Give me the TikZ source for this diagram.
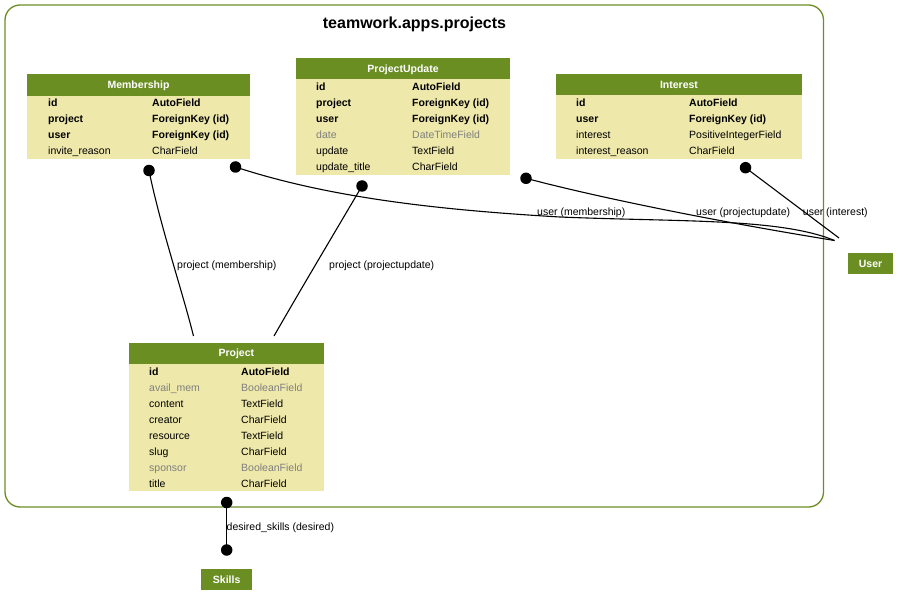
\documentclass[tikz,border=0pt]{standalone}
\usepackage{fontspec}
\setmainfont{Liberation Sans}
\definecolor{hdr}{HTML}{6B8E23}
\definecolor{bodyc}{HTML}{EEE8AA}
\definecolor{grayt}{HTML}{7F7F7F}
\tikzset{
  fb/.style={font=\fontsize{10.5}{12}\selectfont\bfseries,inner sep=0pt,anchor=base west},
  fn/.style={font=\fontsize{10.5}{12}\selectfont,inner sep=0pt,anchor=base west},
  fg/.style={font=\fontsize{10.5}{12}\selectfont,text=grayt,inner sep=0pt,anchor=base west},
  htitle/.style={font=\fontsize{10.5}{12}\selectfont\bfseries,text=white,inner sep=0pt,anchor=base},
  hbox/.style={fill=hdr,draw=none},
  bbox/.style={fill=bodyc,draw=none},
  lbl/.style={font=\fontsize{10.5}{12}\selectfont,inner sep=0pt,anchor=base west},
  edge/.style={line width=1.1pt,black},
  dotc/.style={circle,fill=black,inner sep=0pt,minimum size=11.5pt},
}
\newcommand\frow[7]{\node[#5] (#1n) at (#2,#4) {#6}; \node[#5] (#1t) at (#3,#4) {#7};}
\begin{document}
\begin{tikzpicture}[x=1pt,y=-1pt]
\useasboundingbox (0,0) rectangle (912,609);
% cluster
\draw[draw=hdr,line width=1.3pt,rounded corners=15pt] (5,5) rectangle (823.5,507);
\node[font=\fontsize{16}{18}\selectfont\bfseries,inner sep=0pt,anchor=base] (ttl) at (414.5,28.5) {teamwork.apps.projects};

% Membership
\path[bbox] (27,95.5) rectangle (250,159);
\node[hbox,minimum width=223pt,minimum height=21.5pt,inner sep=0pt,anchor=north west] (memh) at (27,74) {};
\node[htitle] (memt) at (138.5,88.5) {Membership};
\frow{mid}{48}{152}{107}{fb}{id}{AutoField}
\frow{mproj}{48}{152}{123}{fb}{project}{ForeignKey (id)}
\frow{muser}{48}{152}{139}{fb}{user}{ForeignKey (id)}
\frow{minv}{48}{152}{155}{fn}{invite\_reason}{CharField}

% ProjectUpdate
\path[bbox] (296,79.3) rectangle (510,175);
\node[hbox,minimum width=214pt,minimum height=21pt,inner sep=0pt,anchor=north west] (puh) at (296,58.3) {};
\node[htitle] (put) at (403,72.5) {ProjectUpdate};
\frow{pid}{316}{412}{91}{fb}{id}{AutoField}
\frow{pproj}{316}{412}{107}{fb}{project}{ForeignKey (id)}
\frow{puser}{316}{412}{123}{fb}{user}{ForeignKey (id)}
\frow{pdate}{316}{412}{139}{fg}{date}{DateTimeField}
\frow{pupd}{316}{412}{155}{fn}{update}{TextField}
\frow{pupt}{316}{412}{171}{fn}{update\_title}{CharField}

% Interest
\path[bbox] (555.7,95.3) rectangle (802,159.3);
\node[hbox,minimum width=246.3pt,minimum height=21pt,inner sep=0pt,anchor=north west] (inth) at (555.7,74.3) {};
\node[htitle] (intt) at (679,88.5) {Interest};
\frow{iid}{576}{689}{107}{fb}{id}{AutoField}
\frow{iuser}{576}{689}{123}{fb}{user}{ForeignKey (id)}
\frow{iint}{576}{689}{139}{fn}{interest}{PositiveIntegerField}
\frow{ires}{576}{689}{155}{fn}{interest\_reason}{CharField}

% Project
\path[bbox] (129,363.3) rectangle (323.7,491.3);
\node[hbox,minimum width=194.7pt,minimum height=21pt,inner sep=0pt,anchor=north west] (prh) at (129,342.3) {};
\node[htitle] (prt) at (236.3,356.5) {Project};
\frow{rid}{149}{241}{375}{fb}{id}{AutoField}
\frow{ravail}{149}{241}{391}{fg}{avail\_mem}{BooleanField}
\frow{rcont}{149}{241}{407}{fn}{content}{TextField}
\frow{rcre}{149}{241}{423}{fn}{creator}{CharField}
\frow{rres}{149}{241}{439}{fn}{resource}{TextField}
\frow{rslug}{149}{241}{455}{fn}{slug}{CharField}
\frow{rspon}{149}{241}{471}{fg}{sponsor}{BooleanField}
\frow{rtitle}{149}{241}{487}{fn}{title}{CharField}

% User and Skills
\node[hbox,minimum width=45pt,minimum height=21pt,inner sep=0pt] (user) at (870.5,263.5) {};
\node[htitle] (usert) at (870.5,267.3) {User};
\node[hbox,minimum width=50.7pt,minimum height=21pt,inner sep=0pt] (skills) at (226.7,579.5) {};
\node[htitle] (skillst) at (226.7,583.3) {Skills};

% endpoints
\coordinate (dmproj) at (149,170.5);
\coordinate (dmuser) at (235.5,167);
\coordinate (dpproj) at (362,186);
\coordinate (dpuser) at (526,178.3);
\coordinate (diuser) at (745.5,167.7);
\coordinate (eprojL) at (193.5,336);
\coordinate (eprojR) at (274,336);
\coordinate (euserA) at (834.5,240.5);
\coordinate (euserB) at (839,238);
\coordinate (dsk1) at (226.7,502.5);
\coordinate (dsk2) at (226.7,550);

% edges
\draw[edge] (dmproj) .. controls (160,225) and (182,290) .. (eprojL);
\draw[edge] (dpproj) .. controls (335,232) and (305,282) .. (eprojR);
\draw[edge] (dmuser) .. controls (330,198) and (440,210) .. (560,217)
                     .. controls (680,222) and (780,218) .. (euserA);
\draw[edge] (dpuser) .. controls (600,198) and (720,222) .. (euserA);
\draw[edge] (diuser) -- (euserB);
\draw[edge] (dsk1) -- (dsk2);
\foreach \p in {dmproj,dmuser,dpproj,dpuser,diuser,dsk1,dsk2}
  \node[dotc] at (\p) {};

% labels
\node[lbl] (l1) at (177,268.5) {project (membership)};
\node[lbl] (l2) at (329,268.5) {project (projectupdate)};
\node[lbl] (l3) at (537,215.5) {user (membership)};
\node[lbl] (l4) at (696,215.5) {user (projectupdate)};
\node[lbl] (l5) at (802.7,215.5) {user (interest)};
\node[lbl] (l6) at (226.5,530.5) {desired\_skills (desired)};
\end{tikzpicture}
\end{document}
